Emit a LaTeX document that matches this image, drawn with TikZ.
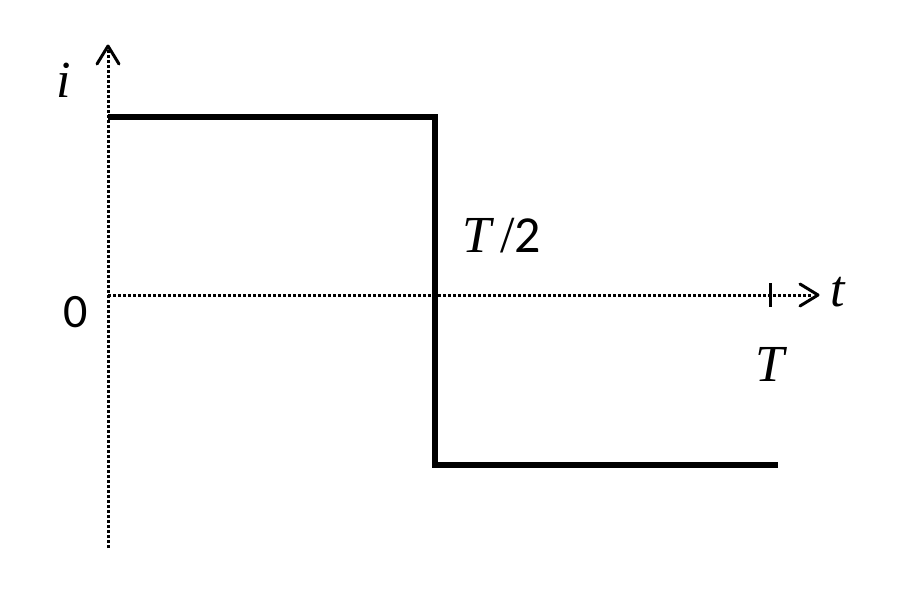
\documentclass[tikz,border=0pt]{standalone}
\usepackage{fontspec}
\setmainfont{Liberation Serif}
\newfontfamily\digits{Carlito}
\begin{document}
\begin{tikzpicture}[x=1pt,y=-1pt,
  axis/.style={line width=3pt,dotted},
  wave/.style={line width=6pt},
  lbl/.style={font=\fontsize{52}{56}\selectfont\itshape,inner sep=0pt},
  num/.style={font=\fontsize{48}{52}\selectfont\digits,inner sep=0pt}]
\useasboundingbox (0,0) rectangle (900,595);
\coordinate (ybot) at (108,548);
\coordinate (ytop) at (108,48);
\coordinate (xl) at (108,295);
\coordinate (xr) at (812,295);
\coordinate (a) at (108,117);
\coordinate (b) at (435,117);
\coordinate (c) at (435,465);
\coordinate (d) at (778,465);
\coordinate (t1) at (770,283);
\coordinate (t2) at (770,307);
\draw[axis] (ybot) -- (ytop);
\draw[line width=3pt,line cap=round,line join=round] (97,64) -- (108,46) -- (119,64);
\draw[axis] (xl) -- (xr);
\draw[line width=3pt,line cap=round,line join=round] (800,284) -- (818,295) -- (800,306);
\draw[line width=3pt] (t1) -- (t2);
\draw[wave,line join=miter] (a) -- (b) -- (c) -- (d);
\node[lbl] (i) at (64,80) {i};
\node[num] (z) at (76,312) {0};
\node[lbl] (t) at (838,292) {t};
\node[lbl] (T) at (770,364) {T};
\node (th) at (502,236) {\fontsize{52}{56}\selectfont\itshape T\,\upshape/\digits 2};
\end{tikzpicture}
\end{document}
